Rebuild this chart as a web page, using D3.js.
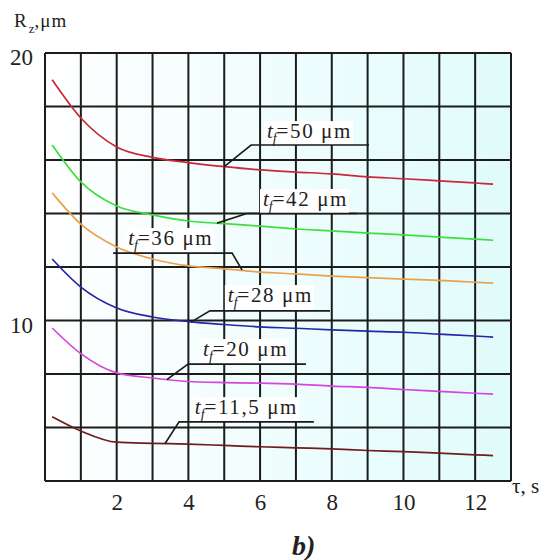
<!DOCTYPE html>
<html>
<head>
<meta charset="utf-8">
<script src="https://cdn.jsdelivr.net/npm/d3@7"></script>
<style>
  body { margin: 0; background: #fff; }
  svg text { font-family: "Liberation Serif", "Times New Roman", Times, "DejaVu Serif", serif; fill: #222; }
</style>
</head>
<body>
<script>
//////////////////////////////////////////////////////////////////////////////
// Data: Rz (um) against time tau (s), one series per tf

let tau = [0.2, 1, 2, 3, 4, 5, 6, 7, 8, 9, 10, 11, 12, 12.5];

let rz50 = [19.0, 17.57, 16.49, 16.1, 15.9, 15.75, 15.63, 15.55, 15.48, 15.37, 15.3, 15.22, 15.14, 15.1];
let rz42 = [16.56, 15.18, 14.28, 13.95, 13.72, 13.62, 13.53, 13.42, 13.35, 13.27, 13.2, 13.12, 13.04, 13.0];
let rz36 = [14.77, 13.6, 12.75, 12.3, 12.04, 11.93, 11.81, 11.74, 11.66, 11.6, 11.55, 11.5, 11.43, 11.4];
let rz28 = [12.3, 11.25, 10.47, 10.13, 9.96, 9.85, 9.76, 9.71, 9.65, 9.6, 9.56, 9.49, 9.42, 9.38];
let rz20 = [9.72, 8.76, 8.04, 7.85, 7.72, 7.68, 7.66, 7.62, 7.55, 7.5, 7.42, 7.35, 7.28, 7.25];
let rz115 = [6.4, 5.87, 5.45, 5.41, 5.38, 5.33, 5.28, 5.24, 5.2, 5.14, 5.1, 5.04, 4.98, 4.95];

let tfLabels = ["50", "42", "36", "28", "20", "11,5"];
let xTicks = [2, 4, 6, 8, 10, 12];
let yTicks = [10, 20];

// Size of the svg and the plot box
let width = 554;
let height = 560;
let plotLeft = 45, plotRight = 511, plotTop = 53, plotBottom = 481;
let serif = '"Liberation Serif", "Times New Roman", Times, "DejaVu Serif", serif';

let svg = d3.select("body").append("svg")
  .attr("width", width)
  .attr("height", height);

let x = d3.scaleLinear().domain([0, 13]).range([plotLeft, plotRight]);
let y = d3.scaleLinear().domain([4, 20]).range([plotBottom, plotTop]);

//////////////////////////////////////////////////////////////////////////////
// Background (white to pale cyan) and the grid

let grad = svg.append("defs").append("linearGradient")
  .attr("id", "bg")
  .attr("x1", "0").attr("x2", "1").attr("y1", "0").attr("y2", "0");
grad.append("stop").attr("offset", "0").attr("stop-color", "#ffffff");
grad.append("stop").attr("offset", "1").attr("stop-color", "#e0fbfb");

svg.append("rect")
  .attr("x", plotLeft).attr("y", plotTop)
  .attr("width", plotRight - plotLeft).attr("height", plotBottom - plotTop)
  .attr("fill", "url(#bg)");

let grid = svg.append("g")
  .attr("stroke", "#1c1c1c")
  .attr("stroke-width", 2);

grid.selectAll(".vx")
  .data(d3.range(0, 14))
  .join("line")
  .attr("class", "vx")
  .attr("x1", d => x(d)).attr("x2", d => x(d))
  .attr("y1", plotTop).attr("y2", plotBottom);

grid.selectAll(".hy")
  .data(d3.range(4, 21, 2))
  .join("line")
  .attr("class", "hy")
  .attr("x1", plotLeft).attr("x2", plotRight)
  .attr("y1", d => y(d)).attr("y2", d => y(d));

//////////////////////////////////////////////////////////////////////////////
// Axes: only tick labels, no tick marks

let xAxis = svg.append("g")
  .attr("transform", `translate(0,${plotBottom})`)
  .call(d3.axisBottom(x).tickValues(xTicks).tickSize(0).tickPadding(14));
xAxis.attr("font-family", serif);
xAxis.select(".domain").remove();
xAxis.selectAll("text")
  .style("font-family", serif)
  .style("font-size", "23px")
  .attr("fill", "#222")
  .attr("dy", "0.65em");

let yAxis = svg.append("g")
  .attr("transform", `translate(${plotLeft},0)`)
  .call(d3.axisLeft(y).tickValues(yTicks).tickSize(0).tickPadding(12));
yAxis.attr("font-family", serif);
yAxis.select(".domain").remove();
yAxis.selectAll("text")
  .style("font-family", serif)
  .style("font-size", "23px")
  .attr("fill", "#222")
  .attr("dy", "0.5em");

// axis titles
let yTitle = svg.append("text")
  .attr("x", 14).attr("y", 27)
  .style("font-family", serif)
  .style("font-size", "19px");
yTitle.append("tspan").text("R");
yTitle.append("tspan").attr("dy", 6).attr("dx", 2).style("font-size", "13px").text("z");
yTitle.append("tspan").attr("dy", -6).style("letter-spacing", "1px").text(",μm");

svg.append("text")
  .attr("x", 512).attr("y", 493)
  .style("font-family", serif)
  .style("font-size", "21px")
  .text("τ, s");

svg.append("text")
  .attr("x", 292).attr("y", 555)
  .style("font-family", serif)
  .style("font-size", "28px")
  .style("font-weight", "bold")
  .style("font-style", "italic")
  .attr("fill", "#111")
  .text("b)");

//////////////////////////////////////////////////////////////////////////////
// Label boxes (they hide the grid), then the curves, leader lines and text

let series = [
  { values: rz50, color: "#c8283a" },
  { values: rz42, color: "#3ede3e" },
  { values: rz36, color: "#eda04a" },
  { values: rz28, color: "#2626a8" },
  { values: rz20, color: "#d645dc" },
  { values: rz115, color: "#6e1c1c" }
];

// label anchor: text start and baseline, leader: curve point, elbow, end of underline
let notes = [
  { text: [6.19, 16.82], leader: [[4.99, 15.74], [5.75, 16.56], [9.04, 16.56]] },
  { text: [6.08, 14.28], leader: [[4.8, 13.64], [5.63, 14.0], [8.7, 14.0]] },
  { text: [2.32, 12.82], leader: [[5.5, 11.88], [5.22, 12.52], [1.9, 12.52]] },
  { text: [5.1, 10.69], leader: [[4.07, 9.94], [4.6, 10.36], [7.95, 10.36]] },
  { text: [4.41, 8.67], leader: [[3.4, 7.79], [3.99, 8.37], [7.28, 8.37]] },
  { text: [4.18, 6.5], leader: [[3.35, 5.4], [3.74, 6.21], [7.5, 6.21]] }
];

let boxLayer = svg.append("g");
let curveLayer = svg.append("g");
let noteLayer = svg.append("g");

let line = d3.line()
  .x((d, i) => x(tau[i]))
  .y(d => y(d))
  .curve(d3.curveMonotoneX);

curveLayer.selectAll("path")
  .data(series)
  .join("path")
  .attr("d", d => line(d.values))
  .attr("fill", "none")
  .attr("stroke", d => d.color)
  .attr("stroke-width", 1.7);

notes.forEach(function (n, i) {
  let t = noteLayer.append("text")
    .attr("x", x(n.text[0]))
    .attr("y", y(n.text[1]))
    .style("font-family", serif)
    .style("font-size", "21px");
  t.append("tspan").style("font-style", "italic").text("t");
  t.append("tspan").style("font-style", "italic").style("font-size", "14px")
    .attr("dy", 5).text("f");
  t.append("tspan").attr("dy", -5).style("letter-spacing", "1.6px")
    .text("=" + tfLabels[i] + " μm");

  // white box behind the text down to the underline
  let bb = t.node().getBBox();
  let yLine = y(n.leader[1][1]);
  boxLayer.append("rect")
    .attr("x", bb.x - 3)
    .attr("y", bb.y + 2)
    .attr("width", bb.width + 4)
    .attr("height", yLine - bb.y - 2)
    .attr("fill", "#fff");

  noteLayer.append("path")
    .attr("d", d3.line().x(p => x(p[0])).y(p => y(p[1]))(n.leader))
    .attr("fill", "none")
    .attr("stroke", "#1a1a1a")
    .attr("stroke-width", 1.6);
});
</script>
</body>
</html>
